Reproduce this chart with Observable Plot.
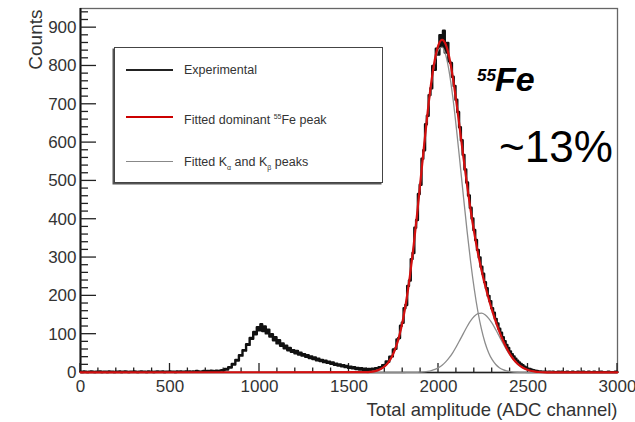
<!DOCTYPE html>
<html>
<head>
<meta charset="utf-8">
<script src="https://cdn.jsdelivr.net/npm/d3@7"></script>
<script src="https://cdn.jsdelivr.net/npm/@observablehq/plot@0.6"></script>
<style>
  html, body { margin: 0; padding: 0; background: #fff; }
  #wrap { position: relative; width: 635px; height: 422px; font-family: "Liberation Sans", Arial, sans-serif; }
  .legend { position: absolute; left: 114px; top: 47px; width: 267px; height: 134px; border: 1.5px solid #444; box-shadow: -1.5px 1.5px 0 #555; background: #fff; color: #333; font-size: 12.5px; }
  .legend .row { position: absolute; left: 0; height: 0; }
  .legend .sw { position: absolute; left: 11px; width: 47px; top: 0; }
  .legend .lbl { position: absolute; left: 69px; top: -8px; white-space: nowrap; line-height: 16px; }
  .legend sup, .legend sub { font-size: 7px; }
  .ann { position: absolute; line-height: 1; color: #000; white-space: nowrap; }
</style>
</head>
<body>
<div id="wrap"></div>
<script>
// ---------- data ----------
const xMajor = [0, 500, 1000, 1500, 2000, 2500, 3000];
const yMajor = [0, 100, 200, 300, 400, 500, 600, 700, 800, 900];

// Experimental histogram: counts in 10-channel bins starting at channel 0
const expStart = 0, expStep = 10;
const expCounts = [
  2,1,3,2,1,2,3,2,1,2,
  2,3,1,2,2,1,3,2,2,1,
  2,2,3,1,2,3,2,1,2,2,
  3,2,1,2,3,2,2,1,3,2,
  2,1,2,3,2,2,3,1,2,2,
  3,2,2,1,3,2,3,2,2,3,
  2,3,2,3,2,4,3,2,3,4,
  3,4,3,5,4,3,5,4,5,6,
  6,9,8,14,13,22,21,33,31,45,44,58,57,74,72,90,88,106,100,118,110,
  126,108,120,102,112,94,100,84,92,76,84,70,76,63,70,58,64,54,58,50,
  56,47,52,44,48,41,45,38,42,35,39,32,36,30,33,27,31,25,28,23,
  26,20,23,18,21,16,19,14,17,12,15,11,14,9,12,8,11,7,10,6,
  9,7,10,8,11,10,14,13,19,20,
  29,28,41,42,60,62,86,90,122,130,
  168,176,226,240,296,312,378,398,466,490,
  558,580,648,670,724,742,800,790,845,830,
  880,850,892,835,860,812,808,772,748,712,
  680,640,606,568,530,496,462,430,402,372,
  346,320,300,276,258,236,220,200,186,168,
  156,140,128,114,104,92,82,72,64,55,
  48,42,36,31,26,22,19,15,13,10,
  9,7,6,5,4,3,3,2,2,2,
  1,2,1,2,1,1,2,1,2,1, 1,2,1,1,2,1,1,2,1,1,
  2,1,1,2,1,1,2,1,1,1, 2,1,1,1,2,1,1,1,2,1
];

// Fitted curves sampled every 20 channels from channel 1600
const fitStart = 1600, fitStep = 20;
const fitDominant = [
  0.9,1.7,3.1,5.6,9.7,16.3,26.5,41.7,63.6,94.1,
  134.6,186.9,250.9,326.5,411.5,502.8,594.9,682.2,758.4,817.5,
  855.1,868.2,856.6,822.8,770.4,705.1,632.8,558.9,487.8,422.2,
  363.9,312.7,267.8,228.4,193.2,161.4,132.6,106.6,83.7,63.9,
  47.4,34,23.6,15.9,10.3,6.4,3.9,2.3,1.3,0.7,
  0.4,0.2,0.1
];
const redBaseline = [[0, 0.5], [3000, 0.5]]; // flat part of the fit outside the peak
const fitKalpha = [
  0.9,1.7,3.1,5.6,9.7,16.3,26.5,41.7,63.6,94.1,
  134.6,186.8,250.8,326.2,411,501.8,593.2,679.2,753.4,809.4,
  842.4,849.2,829,784.1,718.3,637.3,547.7,456,367.7,287.1,
  217.3,159.2,113,77.7,51.8,33.4,20.9,12.6,7.4,4.2,
  2.3,1.2,0.6,0.3,0.1,0,0,0,0,0,
  0,0,0
];
const fitKbeta = [
  0,0,0,0,0,0,0,0,0,0,
  0,0.1,0.1,0.3,0.5,1,1.7,3,5,8.1,
  12.7,19,27.6,38.7,52.1,67.8,85.1,102.9,120.1,135.1,
  146.6,153.5,154.8,150.7,141.4,128,111.7,94,76.3,59.7,
  45.1,32.8,23,15.6,10.2,6.4,3.9,2.3,1.3,0.7,
  0.4,0.2,0.1
];

// ---------- build tables ----------
const expData = expCounts.map((c, i) => ({ch: expStart + i * expStep, n: c}));
const fitRows = (arr) => arr.map((v, i) => ({ch: fitStart + i * fitStep, n: v}));
const redData = [{ch: redBaseline[0][0], n: redBaseline[0][1]}, ...fitRows(fitDominant), {ch: redBaseline[1][0], n: redBaseline[1][1]}];
const kaData = fitRows(fitKalpha);
const kbData = fitRows(fitKbeta);

const yMinor = d3.range(0, 950, 20).filter(v => v % 100 !== 0);
const xMinor = d3.range(0, 3001, 100).filter(v => v % 500 !== 0);

// ROOT-style inward ticks, drawn through Plot's scales
function inwardTicks(index, scales) {
  const {x, y} = scales;
  const g = d3.create("svg:g").attr("stroke", "#222").attr("stroke-width", 1.3);
  const x0 = x(0), y0 = y(0);
  for (const v of yMajor) g.append("line").attr("x1", x0).attr("x2", x0 + 16).attr("y1", y(v)).attr("y2", y(v));
  for (const v of yMinor) g.append("line").attr("x1", x0).attr("x2", x0 + 8).attr("y1", y(v)).attr("y2", y(v));
  for (const v of xMajor) g.append("line").attr("x1", x(v)).attr("x2", x(v)).attr("y1", y0).attr("y2", y0 - 9);
  for (const v of xMinor) g.append("line").attr("x1", x(v)).attr("x2", x(v)).attr("y1", y0).attr("y2", y0 - 4.5);
  return g.node();
}

const chart = Plot.plot({
  width: 635,
  height: 422,
  marginLeft: 80,
  marginRight: 18,
  marginTop: 8,
  marginBottom: 50,
  style: {fontFamily: "'Liberation Sans', Arial, sans-serif", fontSize: "17px", color: "#333", background: "#fff"},
  x: {domain: [0, 3000], ticks: xMajor, tickSize: 0, tickPadding: 7, tickFormat: d => String(d), label: null},
  y: {domain: [0, 950], ticks: yMajor, tickSize: 0, tickPadding: 4, tickFormat: d => String(d), label: null},
  marks: [
    Plot.frame({stroke: "#666", strokeWidth: 1.3}),
    Plot.ruleX([0], {stroke: "#111", strokeWidth: 2}),
    Plot.ruleY([0], {stroke: "#222", strokeWidth: 1.5}),
    inwardTicks,
    Plot.line(expData, {x: "ch", y: "n", curve: "step", stroke: "#111", strokeWidth: 2.4}),
    Plot.line(kaData, {x: "ch", y: "n", curve: "monotone-x", stroke: "#8c8c8c", strokeWidth: 1.3}),
    Plot.line(kbData, {x: "ch", y: "n", curve: "monotone-x", stroke: "#8c8c8c", strokeWidth: 1.3}),
    Plot.line(redData, {x: "ch", y: "n", curve: "monotone-x", stroke: "#d40f0f", strokeWidth: 2.2}),
    Plot.text(["Counts"], {text: d => d, frameAnchor: "top-left", dx: -52, dy: 1, rotate: -90, textAnchor: "end", fontSize: 19, fill: "#333"}),
    Plot.text(["Total amplitude (ADC channel)"], {text: d => d, frameAnchor: "bottom-right", dy: 43, textAnchor: "end", fontSize: 18.5, fill: "#333"})
  ]
});

const wrap = document.getElementById("wrap");
wrap.appendChild(chart);

// Legend
const legendItems = [
  {html: "Experimental", color: "#222", width: 2.5, y: 22},
  {html: "Fitted dominant <sup>55</sup>Fe peak", color: "#c00", width: 2, y: 69},
  {html: "Fitted K<sub>α</sub> and K<sub>β</sub> peaks", color: "#888", width: 1.6, y: 114}
];
const legend = document.createElement("div");
legend.className = "legend";
for (const it of legendItems) {
  const row = document.createElement("div");
  row.className = "row";
  row.style.top = it.y + "px";
  row.innerHTML = `<div class="sw" style="border-top:${it.width}px solid ${it.color};margin-top:${-it.width/2}px"></div><div class="lbl">${it.html}</div>`;
  legend.appendChild(row);
}
wrap.appendChild(legend);

// Annotations
const sup = document.createElement("div");
sup.className = "ann";
sup.style.cssText = "left:477px;top:67px;font-size:17px;font-weight:bold;font-style:italic;";
sup.textContent = "55";
wrap.appendChild(sup);
const fe = document.createElement("div");
fe.className = "ann";
fe.style.cssText = "left:495px;top:62px;font-size:34px;font-weight:bold;font-style:italic;";
fe.textContent = "Fe";
wrap.appendChild(fe);
const res = document.createElement("div");
res.className = "ann";
res.style.cssText = "left:499px;top:125px;font-size:44px;";
res.textContent = "~13%";
wrap.appendChild(res);
</script>
</body>
</html>
